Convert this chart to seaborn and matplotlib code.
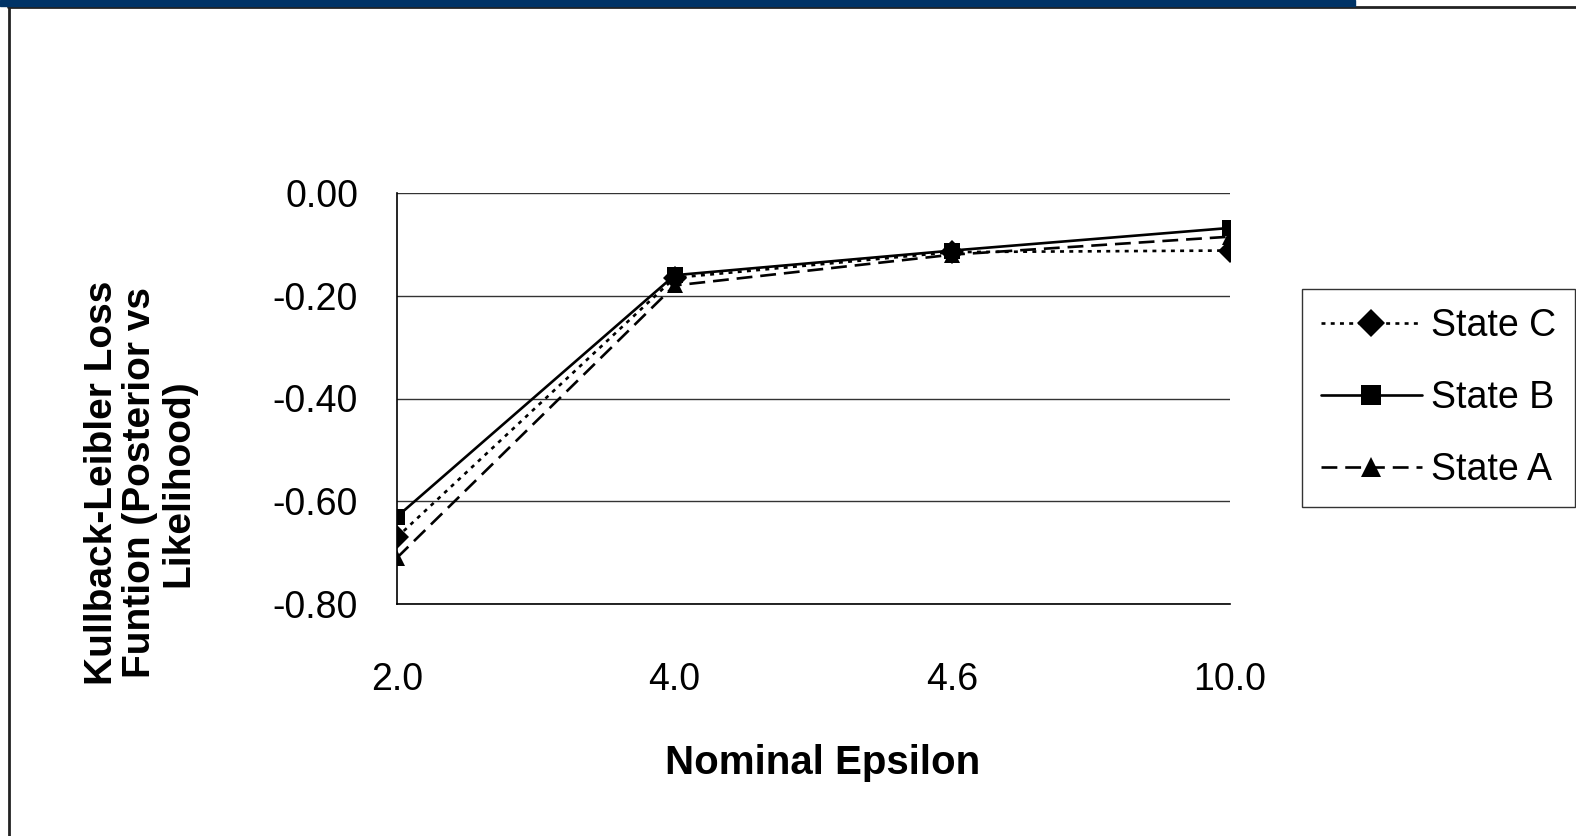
import numpy as np
import pandas as pd
import seaborn as sns
import matplotlib.pyplot as plt
from matplotlib.lines import Line2D
from matplotlib.patches import Rectangle

sns.set_style('white')
plt.rcParams['font.family'] = ['Liberation Sans', 'DejaVu Sans']
plt.rcParams['text.color'] = 'black'
plt.rcParams['axes.labelcolor'] = 'black'

epsilon = ['2.0', '4.0', '4.6', '10.0']
state_c = [-0.67, -0.165, -0.115, -0.112]
state_b = [-0.63, -0.16, -0.112, -0.068]
state_a = [-0.71, -0.18, -0.12, -0.085]
series = ['State C', 'State B', 'State A']
y_ticks = [0.0, -0.2, -0.4, -0.6, -0.8]

df = pd.DataFrame({
    'eps': epsilon * 3,
    'kl': state_c + state_b + state_a,
    'state': np.repeat(series, len(epsilon)),
})

fig = plt.figure(figsize=(15.76, 8.36), dpi=100)
ax = fig.add_axes([397 / 1576, 1 - 604 / 836, (1230 - 397) / 1576, (604 - 193) / 836])

sns.lineplot(data=df, x='eps', y='kl', hue='state', style='state',
             hue_order=series, style_order=series,
             palette=['black'] * 3,
             dashes={'State C': (1.5, 2.0), 'State B': '', 'State A': (6, 3)},
             markers={'State C': 'D', 'State B': 's', 'State A': '^'},
             markersize=12, linewidth=1.9, markeredgewidth=0,
             sort=False, ax=ax)

ax.set_xlim(0, 3)
ax.set_ylim(-0.8, 0.0)
ax.set_yticks(y_ticks)
ax.set_yticklabels([f'{v:.2f}' for v in y_ticks])
ax.yaxis.grid(True, color='#333333', linewidth=1.0)
ax.set_axisbelow(True)
for s in ['top', 'right']:
    ax.spines[s].set_visible(False)
for s in ['left', 'bottom']:
    ax.spines[s].set_color('black')
    ax.spines[s].set_linewidth(1.2)
ax.tick_params(axis='both', which='both', direction='out', length=12, width=1.2,
               colors='black', labelsize=27)
ax.tick_params(axis='y', pad=16)
ax.tick_params(axis='x', pad=30)

ax.set_xlabel('Nominal Epsilon', fontsize=29, fontweight='bold')
ax.xaxis.set_label_coords((823 - 397) / 833, (604 - 744) / 411)
ax.set_ylabel('Kullback-Leibler Loss\nFuntion (Posterior vs\nLikelihood)',
              fontsize=28, fontweight='bold', linespacing=1.08)
ax.yaxis.set_label_coords((196 - 397) / 833, (604 - 483) / 411)

leg = ax.legend(loc='upper left', bbox_to_anchor=(1302 / 1576, 1 - 289 / 836),
                bbox_transform=fig.transFigure, fontsize=27, frameon=True,
                fancybox=False, edgecolor='black', handlelength=2.7,
                borderpad=0.5, labelspacing=0.97, handletextpad=0.25,
                borderaxespad=0, markerscale=1.2)
leg.get_frame().set_linewidth(1.0)

# slide frame
fig.patches.append(Rectangle((0, 1 - 6 / 836), 1355 / 1576, 6 / 836,
                             transform=fig.transFigure, color='#003366', zorder=5))
fig.lines.append(Line2D([8 / 1576, 1], [1 - 7 / 836, 1 - 7 / 836],
                        transform=fig.transFigure, color='#222222', linewidth=2))
fig.lines.append(Line2D([8.5 / 1576, 8.5 / 1576], [0, 1 - 7 / 836],
                        transform=fig.transFigure, color='#222222', linewidth=2))

fig.savefig('out.png', dpi=100)
